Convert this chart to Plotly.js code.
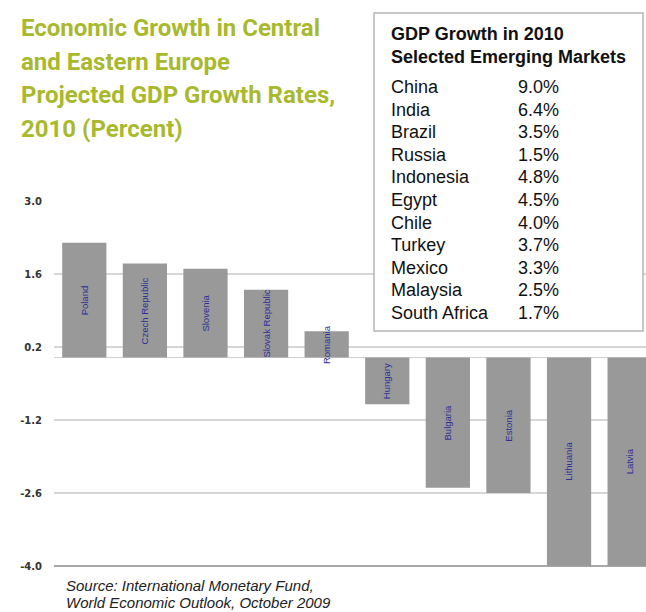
<!DOCTYPE html>
<html>
<head>
<meta charset="utf-8">
<script src="https://cdn.plot.ly/plotly-3.0.1.min.js"></script>
<style>
  html, body { margin: 0; padding: 0; background: #ffffff; }
  #chart { width: 646px; height: 612px; }
</style>
</head>
<body>
<div id="chart"></div>
<script>
// ---- Data ----
const countries = ["Poland", "Czech Republic", "Slovenia", "Slovak Republic", "Romania",
                   "Hungary", "Bulgaria", "Estonia", "Lithuania", "Latvia"];
const growth2010 = [2.2, 1.8, 1.7, 1.3, 0.5, -0.9, -2.5, -2.6, -4.0, -4.0];
const yTicks = [3.0, 1.6, 0.2, -1.2, -2.6, -4.0];
const emergingMarkets = ["China", "India", "Brazil", "Russia", "Indonesia", "Egypt",
                         "Chile", "Turkey", "Mexico", "Malaysia", "South Africa"];
const emergingGrowth = [9.0, 6.4, 3.5, 1.5, 4.8, 4.5, 4.0, 3.7, 3.3, 2.5, 1.7];
const titleLines = ["Economic Growth in Central", "and Eastern Europe",
                    "Projected GDP Growth Rates,", "2010 (Percent)"];
const tableTitle = ["GDP Growth in 2010", "Selected Emerging Markets"];
const sourceLines = ["Source: International Monetary Fund,", "World Economic Outlook, October 2009"];

// ---- Layout geometry ----
const W = 646, H = 612, L = 54, R = 0, T = 201, B = 46;
const PW = W - L - R, PH = H - T - B;
const px = x => (x - L) / PW;
const py = y => 1 - (y - T) / PH;

const barTrace = {
  type: "bar",
  x: countries,
  y: growth2010,
  marker: { color: "#999999" },
  hoverinfo: "x+y"
};

const annotations = [];

// chart title (one annotation per line for exact spacing)
titleLines.forEach((t, i) => {
  annotations.push({
    x: px(19), y: py(28 + i * 33.7), xref: "paper", yref: "paper",
    xanchor: "left", yanchor: "middle", showarrow: false,
    text: "<b>" + t + "</b>",
    font: { family: "Roboto, Lato, sans-serif", size: 24, color: "#a8b92e" }
  });
});

// bar labels (rotated, centred in each bar)
countries.forEach((c, i) => {
  annotations.push({
    x: c, y: growth2010[i] / 2, xref: "x", yref: "y",
    text: c, textangle: -90, showarrow: false,
    font: { family: "Liberation Sans, Arial, sans-serif", size: 9.5, color: "#2e2e96" }
  });
});

// table heading
tableTitle.forEach((t, i) => {
  annotations.push({
    x: px(389), y: py(34 + i * 23), xref: "paper", yref: "paper",
    xanchor: "left", yanchor: "middle", showarrow: false,
    text: "<b>" + t + "</b>",
    font: { family: "Liberation Sans, Arial, sans-serif", size: 18, color: "#111111" }
  });
});

// table rows
emergingMarkets.forEach((m, i) => {
  const yc = 87 + i * 22.6;
  annotations.push({
    x: px(389), y: py(yc), xref: "paper", yref: "paper",
    xanchor: "left", yanchor: "middle", showarrow: false, text: m,
    font: { family: "Liberation Sans, Arial, sans-serif", size: 18, color: "#111111" }
  });
  annotations.push({
    x: px(516), y: py(yc), xref: "paper", yref: "paper",
    xanchor: "left", yanchor: "middle", showarrow: false,
    text: emergingGrowth[i].toFixed(1) + "%",
    font: { family: "Liberation Sans, Arial, sans-serif", size: 18, color: "#111111" }
  });
});

// source
sourceLines.forEach((s, i) => {
  annotations.push({
    x: px(64), y: py(585 + i * 17.5), xref: "paper", yref: "paper",
    xanchor: "left", yanchor: "middle", showarrow: false,
    text: "<i>" + s + "</i>",
    font: { family: "Liberation Sans, Arial, sans-serif", size: 15, color: "#222222" }
  });
});

const layout = {
  width: W, height: H,
  margin: { l: L, r: R, t: T, b: B, pad: 0 },
  paper_bgcolor: "#ffffff",
  plot_bgcolor: "#ffffff",
  showlegend: false,
  bargap: 0.27,
  xaxis: {
    type: "category",
    range: [-0.5, 9.27],
    showticklabels: false,
    showgrid: false,
    zeroline: false,
    showline: false,
    ticks: "",
    fixedrange: true
  },
  yaxis: {
    range: [-4.0, 3.0],
    tickvals: yTicks,
    ticktext: yTicks.map(v => "<b>" + v.toFixed(1) + "</b>"),
    ticks: "",
    ticklabelstandoff: 11,
    showgrid: true,
    gridcolor: "#d6d6d6",
    gridwidth: 1.5,
    zeroline: true,
    zerolinecolor: "#d0d0d0",
    zerolinewidth: 1.5,
    showline: false,
    tickfont: { family: "DejaVu Sans, sans-serif", size: 10, color: "#333333" },
    fixedrange: true
  },
  shapes: [
    {
      type: "line", xref: "paper", yref: "paper",
      x0: 0, x1: 1, y0: 0, y1: 0,
      line: { color: "#a8a8a8", width: 2 }, layer: "below"
    },
    {
      type: "rect", xref: "paper", yref: "paper",
      x0: px(374), x1: px(643), y0: py(13), y1: py(331),
      fillcolor: "#ffffff",
      line: { color: "#b5b5b5", width: 1.5 },
      layer: "above"
    }
  ],
  annotations: annotations
};

Plotly.newPlot("chart", [barTrace], layout, { displayModeBar: false, staticPlot: true });
</script>
</body>
</html>
